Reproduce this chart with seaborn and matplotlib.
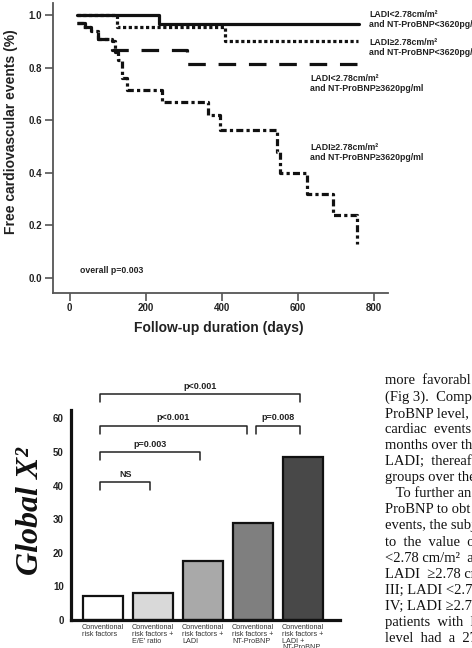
import seaborn as sns
import pandas as pd
import matplotlib.pyplot as plt

# ---- Kaplan-Meier curves (top panel) ----
solid_days = [18, 235, 762]
solid_surv = [1.0, 0.965, 0.965]
dotted_days = [18, 124, 409, 759]
dotted_surv = [1.0, 0.955, 0.90, 0.90]
dashed_days = [18, 40, 75, 110, 308, 755]
dashed_surv = [0.97, 0.955, 0.91, 0.866, 0.815, 0.815]
dashdot_days = [18, 35, 55, 75, 112, 120, 128, 137, 150, 243, 364, 396, 545, 553, 625, 694, 757]
dashdot_surv = [0.97, 0.955, 0.94, 0.91, 0.90, 0.86, 0.83, 0.76, 0.715, 0.67, 0.62, 0.565, 0.48, 0.40, 0.32, 0.24, 0.13]

group_labels = ['LADI<2.78cm/m²\nand NT-ProBNP<3620pg/ml',
                'LADI≥2.78cm/m²\nand NT-ProBNP<3620pg/ml',
                'LADI<2.78cm/m²\nand NT-ProBNP≥3620pg/ml',
                'LADI≥2.78cm/m²\nand NT-ProBNP≥3620pg/ml']

# ---- Global chi-square bars (bottom panel) ----
models = ['Conventional\nrisk factors',
          'Conventional\nrisk factors +\nE/E\' ratio',
          'Conventional\nrisk factors +\nLADI',
          'Conventional\nrisk factors +\nNT-ProBNP',
          'Conventional\nrisk factors +\nLADI +\nNT-ProBNP']
chi2 = [7.0, 7.9, 17.5, 28.8, 48.5]
bar_colors = ['#ffffff', '#d9d9d9', '#a9a9a9', '#7f7f7f', '#484848']

# comparisons: (from bar, to bar, label, level)
comparisons = [(0, 1, 'NS', 41.1),
               (0, 2, 'p=0.003', 49.9),
               (0, 3, 'p<0.001', 57.8),
               (3, 4, 'p=0.008', 57.8),
               (0, 4, 'p<0.001', 67.3)]

body_lines = ['more  favorabl', '(Fig 3).  Compa', 'ProBNP level,', 'cardiac  events',
              'months over th', 'LADI;  thereaft', 'groups over the', '   To further an',
              'ProBNP to obt', 'events, the subj', 'to  the  value  o', '<2.78 cm/m²  a',
              'LADI  ≥2.78 cm', 'III; LADI <2.78', 'IV; LADI ≥2.7', 'patients  with  l',
              'level  had  a  27']

sns.set_theme(style='ticks')
plt.rcParams['font.family'] = ['Liberation Sans', 'DejaVu Sans']

fig = plt.figure(figsize=(4.72, 6.48), dpi=100)

# ------------------- top: survival curves -------------------
ax1 = fig.add_axes([0.1117, 0.5478, 0.7104, 0.4475])
lw = 2.3
sns.lineplot(x=solid_days, y=solid_surv, ax=ax1, color='#111111', lw=lw,
             drawstyle='steps-post')
sns.lineplot(x=dotted_days, y=dotted_surv, ax=ax1, color='#111111', lw=lw,
             drawstyle='steps-post', linestyle=(0, (1.0, 0.8)))
sns.lineplot(x=dashed_days, y=dashed_surv, ax=ax1, color='#111111', lw=lw,
             drawstyle='steps-post', linestyle=(0, (5.5, 4.0)))
sns.lineplot(x=dashdot_days, y=dashdot_surv, ax=ax1, color='#111111', lw=lw,
             drawstyle='steps-post', linestyle=(0, (2.2, 1.0, 1.0, 1.0)))

ax1.set_xlim(-44.7, 837.6)
ax1.set_ylim(-0.057, 1.046)
ax1.set_xticks([0, 200, 400, 600, 800])
ax1.set_yticks([0.0, 0.2, 0.4, 0.6, 0.8, 1.0])
ax1.set_yticklabels(['0.0', '0.2', '0.4', '0.6', '0.8', '1.0'])
sns.despine(ax=ax1)
for s in ['left', 'bottom']:
    ax1.spines[s].set_linewidth(1.3)
    ax1.spines[s].set_color('#555555')
ax1.tick_params(length=5.5, width=1.2, color='#555555', labelsize=7, pad=2)
for t in ax1.get_xticklabels() + ax1.get_yticklabels():
    t.set_fontweight('bold')
    t.set_color('#222222')

label_pos = [(788, 0.983), (788, 0.876), (632, 0.741), (632, 0.477)]
for (lx, ly), txt in zip(label_pos, group_labels):
    ax1.text(lx, ly, txt, fontsize=6.3, fontweight='bold', color='#222222',
             ha='left', va='center', linespacing=1.15, clip_on=False)
ax1.text(27, 0.027, 'overall p=0.003', fontsize=6.3, fontweight='bold',
         color='#222222', ha='left', va='center')

fig.text(11 / 472, 1 - 132 / 648, 'Free cardiovascular events (%)', rotation=90,
         fontsize=10, fontweight='bold', color='#222222', ha='center', va='center')
fig.text(219 / 472, 1 - 328 / 648, 'Follow-up duration (days)',
         fontsize=10, fontweight='bold', color='#222222', ha='center', va='center')

# ------------------- bottom: global chi-square -------------------
ax2 = fig.add_axes([0.1498, 0.0432, 0.5706, 0.3241])
sns.barplot(x=models, y=chi2, hue=models, palette=bar_colors, legend=False,
            width=0.81, edgecolor='#111111', linewidth=1.6, ax=ax2)
ax2.set_xlim(-0.65, 4.74)
ax2.set_ylim(0, 62.5)
ax2.set_yticks([0, 10, 20, 30, 40, 50, 60])
sns.despine(ax=ax2)
for s in ['left', 'bottom']:
    ax2.spines[s].set_linewidth(2.3)
    ax2.spines[s].set_color('#111111')
ax2.tick_params(axis='y', length=0, labelsize=7, pad=5)
ax2.tick_params(axis='x', length=0, labelsize=5.2, pad=3, labelcolor='#333333')
for t in ax2.get_yticklabels():
    t.set_fontweight('bold')
    t.set_color('#222222')
for t in ax2.get_xticklabels():
    t.set_multialignment('left')
    t.set_linespacing(0.95)

depth = 2.4
for i, j, txt, lev in comparisons:
    x1 = i - 0.06 if i == 0 else i + 0.06
    x2 = j - 0.06 - (0.07 if j == 3 else 0)
    ax2.plot([x1, x1, x2, x2], [lev - depth, lev, lev, lev - depth],
             color='#222222', lw=1.1, clip_on=False)
    ax2.text((x1 + x2) / 2, lev + 1.0, txt, fontsize=6.5, fontweight='bold',
             color='#222222', ha='center', va='bottom', clip_on=False)

fig.text(31 / 472, 1 - 511 / 648, 'Global X²', rotation=90, fontsize=23,
         fontweight='bold', style='italic', family=['Liberation Serif', 'DejaVu Serif'],
         ha='center', va='center', color='#111111')

# ------------------- body text on the right -------------------
for k, line in enumerate(body_lines):
    fig.text(385 / 472, 1 - (381 + 16.1 * k) / 648, line, fontsize=10.5,
             family=['Liberation Serif', 'DejaVu Serif'], color='#111111',
             ha='left', va='center')

fig.savefig('out.png', dpi=100)
